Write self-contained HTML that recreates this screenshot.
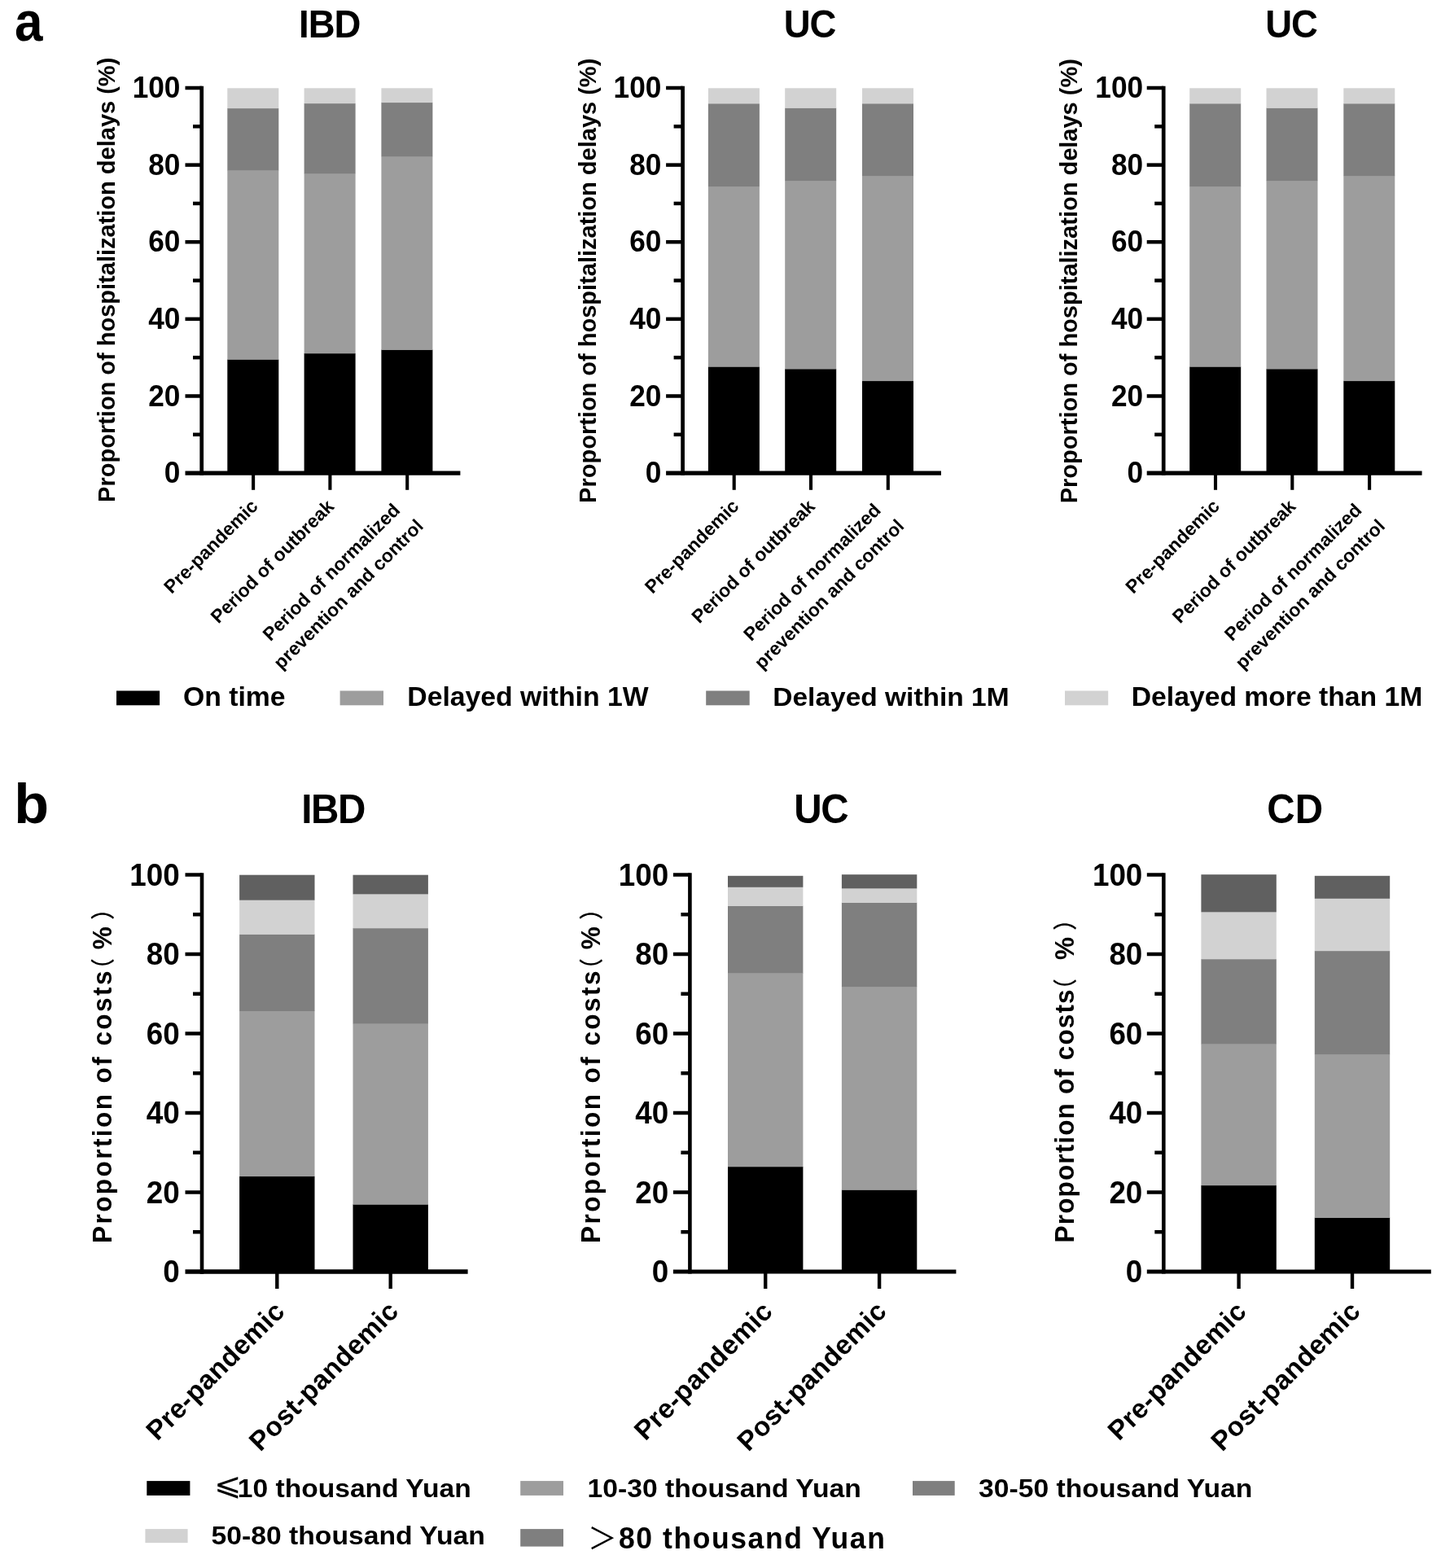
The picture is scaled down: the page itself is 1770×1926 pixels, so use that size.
<!DOCTYPE html>
<html lang="en">
<head>
<meta charset="utf-8">
<title>Figure: hospitalization delays and costs</title>
<style>
html, body { margin: 0; padding: 0; background: #ffffff; }
body { width: 1770px; height: 1926px; overflow: hidden; }
svg { display: block; position: absolute; left: 0; top: 0; }
svg text { font-family: "Liberation Sans", "Noto Sans CJK SC", sans-serif; fill: #000; }
</style>
</head>
<body>
<svg width="1770" height="1926" viewBox="0 0 1770 1926">
<rect x="0" y="0" width="1770" height="1926" fill="#ffffff"/>
<rect x="279.30" y="441.40" width="63.00" height="140.00" fill="#000000"/>
<rect x="279.30" y="209.20" width="63.00" height="232.50" fill="#9d9d9d"/>
<rect x="279.30" y="132.90" width="63.00" height="76.60" fill="#7f7f7f"/>
<rect x="279.30" y="108.30" width="63.00" height="24.90" fill="#d2d2d2"/>
<rect x="373.60" y="434.00" width="63.00" height="147.40" fill="#000000"/>
<rect x="373.60" y="212.90" width="63.00" height="221.40" fill="#9d9d9d"/>
<rect x="373.60" y="126.90" width="63.00" height="86.30" fill="#7f7f7f"/>
<rect x="373.60" y="108.30" width="63.00" height="18.90" fill="#d2d2d2"/>
<rect x="468.40" y="429.50" width="63.00" height="151.90" fill="#000000"/>
<rect x="468.40" y="191.90" width="63.00" height="237.90" fill="#9d9d9d"/>
<rect x="468.40" y="125.80" width="63.00" height="66.40" fill="#7f7f7f"/>
<rect x="468.40" y="108.30" width="63.00" height="17.80" fill="#d2d2d2"/>
<line x1="247.70" y1="105.75" x2="247.70" y2="583.70" stroke="#000" stroke-width="4.7"/>
<line x1="227.50" y1="581.10" x2="565.40" y2="581.10" stroke="#000" stroke-width="5.2"/>
<line x1="237.00" y1="533.79" x2="248.00" y2="533.79" stroke="#000" stroke-width="4.5"/>
<line x1="227.50" y1="486.48" x2="248.00" y2="486.48" stroke="#000" stroke-width="4.5"/>
<line x1="237.00" y1="439.17" x2="248.00" y2="439.17" stroke="#000" stroke-width="4.5"/>
<line x1="227.50" y1="391.86" x2="248.00" y2="391.86" stroke="#000" stroke-width="4.5"/>
<line x1="237.00" y1="344.55" x2="248.00" y2="344.55" stroke="#000" stroke-width="4.5"/>
<line x1="227.50" y1="297.24" x2="248.00" y2="297.24" stroke="#000" stroke-width="4.5"/>
<line x1="237.00" y1="249.93" x2="248.00" y2="249.93" stroke="#000" stroke-width="4.5"/>
<line x1="227.50" y1="202.62" x2="248.00" y2="202.62" stroke="#000" stroke-width="4.5"/>
<line x1="237.00" y1="155.31" x2="248.00" y2="155.31" stroke="#000" stroke-width="4.5"/>
<line x1="227.50" y1="108.00" x2="248.00" y2="108.00" stroke="#000" stroke-width="4.5"/>
<line x1="311.10" y1="581.10" x2="311.10" y2="601.80" stroke="#000" stroke-width="4.1"/>
<line x1="405.40" y1="581.10" x2="405.40" y2="601.80" stroke="#000" stroke-width="4.1"/>
<line x1="500.20" y1="581.10" x2="500.20" y2="601.80" stroke="#000" stroke-width="4.1"/>
<text transform="translate(221.40,593.30) scale(1,1.06)" font-size="35.2" font-weight="bold" text-anchor="end" id="a0_tl0">0</text>
<text transform="translate(221.40,498.68) scale(1,1.06)" font-size="35.2" font-weight="bold" text-anchor="end" id="a0_tl1">20</text>
<text transform="translate(221.40,404.06) scale(1,1.06)" font-size="35.2" font-weight="bold" text-anchor="end" id="a0_tl2">40</text>
<text transform="translate(221.40,309.44) scale(1,1.06)" font-size="35.2" font-weight="bold" text-anchor="end" id="a0_tl3">60</text>
<text transform="translate(221.40,214.82) scale(1,1.06)" font-size="35.2" font-weight="bold" text-anchor="end" id="a0_tl4">80</text>
<text transform="translate(221.40,120.20) scale(1,1.06)" font-size="35.2" font-weight="bold" text-anchor="end" id="a0_tl5">100</text>
<text transform="translate(404.70,46.30) scale(1,1.04)" font-size="45.5" font-weight="bold" text-anchor="middle" letter-spacing="-1.0" id="a0_title">IBD</text>
<text transform="translate(141.40,343.80) rotate(-90) scale(1,1.0)" font-size="29.0" font-weight="bold" text-anchor="middle" id="a0_yl">Proportion of hospitalization delays (%)</text>
<text transform="translate(318.10,623.10) rotate(-45) scale(1,1.0)" font-size="22.95" font-weight="bold" text-anchor="end" id="a0_x1">Pre-pandemic</text>
<text transform="translate(411.60,623.50) rotate(-45) scale(1,1.0)" font-size="22.95" font-weight="bold" text-anchor="end" id="a0_x2">Period of outbreak</text>
<text transform="translate(492.60,628.00) rotate(-45) scale(1,1.0)" font-size="22.95" font-weight="bold" text-anchor="end" id="a0_x3">Period of normalized</text>
<text transform="translate(521.20,647.50) rotate(-45) scale(1,1.0)" font-size="22.95" font-weight="bold" text-anchor="end" id="a0_x4">prevention and control</text>
<rect x="869.90" y="450.30" width="63.00" height="131.10" fill="#000000"/>
<rect x="869.90" y="228.80" width="63.00" height="221.80" fill="#9d9d9d"/>
<rect x="869.90" y="127.10" width="63.00" height="102.00" fill="#7f7f7f"/>
<rect x="869.90" y="108.30" width="63.00" height="19.10" fill="#d2d2d2"/>
<rect x="964.20" y="453.10" width="63.00" height="128.30" fill="#000000"/>
<rect x="964.20" y="221.80" width="63.00" height="231.60" fill="#9d9d9d"/>
<rect x="964.20" y="132.50" width="63.00" height="89.60" fill="#7f7f7f"/>
<rect x="964.20" y="108.30" width="63.00" height="24.50" fill="#d2d2d2"/>
<rect x="1059.00" y="467.80" width="63.00" height="113.60" fill="#000000"/>
<rect x="1059.00" y="215.80" width="63.00" height="252.30" fill="#9d9d9d"/>
<rect x="1059.00" y="127.10" width="63.00" height="89.00" fill="#7f7f7f"/>
<rect x="1059.00" y="108.30" width="63.00" height="19.10" fill="#d2d2d2"/>
<line x1="838.60" y1="105.75" x2="838.60" y2="583.70" stroke="#000" stroke-width="4.7"/>
<line x1="818.10" y1="581.10" x2="1156.00" y2="581.10" stroke="#000" stroke-width="5.2"/>
<line x1="827.60" y1="533.79" x2="838.60" y2="533.79" stroke="#000" stroke-width="4.5"/>
<line x1="818.10" y1="486.48" x2="838.60" y2="486.48" stroke="#000" stroke-width="4.5"/>
<line x1="827.60" y1="439.17" x2="838.60" y2="439.17" stroke="#000" stroke-width="4.5"/>
<line x1="818.10" y1="391.86" x2="838.60" y2="391.86" stroke="#000" stroke-width="4.5"/>
<line x1="827.60" y1="344.55" x2="838.60" y2="344.55" stroke="#000" stroke-width="4.5"/>
<line x1="818.10" y1="297.24" x2="838.60" y2="297.24" stroke="#000" stroke-width="4.5"/>
<line x1="827.60" y1="249.93" x2="838.60" y2="249.93" stroke="#000" stroke-width="4.5"/>
<line x1="818.10" y1="202.62" x2="838.60" y2="202.62" stroke="#000" stroke-width="4.5"/>
<line x1="827.60" y1="155.31" x2="838.60" y2="155.31" stroke="#000" stroke-width="4.5"/>
<line x1="818.10" y1="108.00" x2="838.60" y2="108.00" stroke="#000" stroke-width="4.5"/>
<line x1="901.70" y1="581.10" x2="901.70" y2="601.80" stroke="#000" stroke-width="4.1"/>
<line x1="996.00" y1="581.10" x2="996.00" y2="601.80" stroke="#000" stroke-width="4.1"/>
<line x1="1090.80" y1="581.10" x2="1090.80" y2="601.80" stroke="#000" stroke-width="4.1"/>
<text transform="translate(812.30,593.30) scale(1,1.06)" font-size="35.2" font-weight="bold" text-anchor="end" id="a1_tl0">0</text>
<text transform="translate(812.30,498.68) scale(1,1.06)" font-size="35.2" font-weight="bold" text-anchor="end" id="a1_tl1">20</text>
<text transform="translate(812.30,404.06) scale(1,1.06)" font-size="35.2" font-weight="bold" text-anchor="end" id="a1_tl2">40</text>
<text transform="translate(812.30,309.44) scale(1,1.06)" font-size="35.2" font-weight="bold" text-anchor="end" id="a1_tl3">60</text>
<text transform="translate(812.30,214.82) scale(1,1.06)" font-size="35.2" font-weight="bold" text-anchor="end" id="a1_tl4">80</text>
<text transform="translate(812.30,120.20) scale(1,1.06)" font-size="35.2" font-weight="bold" text-anchor="end" id="a1_tl5">100</text>
<text transform="translate(994.60,46.30) scale(1,1.04)" font-size="45.5" font-weight="bold" text-anchor="middle" letter-spacing="-1.0" id="a1_title">UC</text>
<text transform="translate(732.00,344.80) rotate(-90) scale(1,1.0)" font-size="29.0" font-weight="bold" text-anchor="middle" id="a1_yl">Proportion of hospitalization delays (%)</text>
<text transform="translate(908.70,623.10) rotate(-45) scale(1,1.0)" font-size="22.95" font-weight="bold" text-anchor="end" id="a1_x1">Pre-pandemic</text>
<text transform="translate(1002.20,623.50) rotate(-45) scale(1,1.0)" font-size="22.95" font-weight="bold" text-anchor="end" id="a1_x2">Period of outbreak</text>
<text transform="translate(1083.20,628.00) rotate(-45) scale(1,1.0)" font-size="22.95" font-weight="bold" text-anchor="end" id="a1_x3">Period of normalized</text>
<text transform="translate(1111.80,647.50) rotate(-45) scale(1,1.0)" font-size="22.95" font-weight="bold" text-anchor="end" id="a1_x4">prevention and control</text>
<rect x="1461.20" y="450.30" width="63.00" height="131.10" fill="#000000"/>
<rect x="1461.20" y="228.80" width="63.00" height="221.80" fill="#9d9d9d"/>
<rect x="1461.20" y="127.10" width="63.00" height="102.00" fill="#7f7f7f"/>
<rect x="1461.20" y="108.30" width="63.00" height="19.10" fill="#d2d2d2"/>
<rect x="1555.50" y="453.10" width="63.00" height="128.30" fill="#000000"/>
<rect x="1555.50" y="221.80" width="63.00" height="231.60" fill="#9d9d9d"/>
<rect x="1555.50" y="132.50" width="63.00" height="89.60" fill="#7f7f7f"/>
<rect x="1555.50" y="108.30" width="63.00" height="24.50" fill="#d2d2d2"/>
<rect x="1650.30" y="467.80" width="63.00" height="113.60" fill="#000000"/>
<rect x="1650.30" y="215.80" width="63.00" height="252.30" fill="#9d9d9d"/>
<rect x="1650.30" y="127.10" width="63.00" height="89.00" fill="#7f7f7f"/>
<rect x="1650.30" y="108.30" width="63.00" height="19.10" fill="#d2d2d2"/>
<line x1="1429.20" y1="105.75" x2="1429.20" y2="583.70" stroke="#000" stroke-width="4.7"/>
<line x1="1408.70" y1="581.10" x2="1746.60" y2="581.10" stroke="#000" stroke-width="5.2"/>
<line x1="1418.20" y1="533.79" x2="1429.20" y2="533.79" stroke="#000" stroke-width="4.5"/>
<line x1="1408.70" y1="486.48" x2="1429.20" y2="486.48" stroke="#000" stroke-width="4.5"/>
<line x1="1418.20" y1="439.17" x2="1429.20" y2="439.17" stroke="#000" stroke-width="4.5"/>
<line x1="1408.70" y1="391.86" x2="1429.20" y2="391.86" stroke="#000" stroke-width="4.5"/>
<line x1="1418.20" y1="344.55" x2="1429.20" y2="344.55" stroke="#000" stroke-width="4.5"/>
<line x1="1408.70" y1="297.24" x2="1429.20" y2="297.24" stroke="#000" stroke-width="4.5"/>
<line x1="1418.20" y1="249.93" x2="1429.20" y2="249.93" stroke="#000" stroke-width="4.5"/>
<line x1="1408.70" y1="202.62" x2="1429.20" y2="202.62" stroke="#000" stroke-width="4.5"/>
<line x1="1418.20" y1="155.31" x2="1429.20" y2="155.31" stroke="#000" stroke-width="4.5"/>
<line x1="1408.70" y1="108.00" x2="1429.20" y2="108.00" stroke="#000" stroke-width="4.5"/>
<line x1="1493.00" y1="581.10" x2="1493.00" y2="601.80" stroke="#000" stroke-width="4.1"/>
<line x1="1587.30" y1="581.10" x2="1587.30" y2="601.80" stroke="#000" stroke-width="4.1"/>
<line x1="1682.10" y1="581.10" x2="1682.10" y2="601.80" stroke="#000" stroke-width="4.1"/>
<text transform="translate(1404.10,593.30) scale(1,1.06)" font-size="35.2" font-weight="bold" text-anchor="end" id="a2_tl0">0</text>
<text transform="translate(1404.10,498.68) scale(1,1.06)" font-size="35.2" font-weight="bold" text-anchor="end" id="a2_tl1">20</text>
<text transform="translate(1404.10,404.06) scale(1,1.06)" font-size="35.2" font-weight="bold" text-anchor="end" id="a2_tl2">40</text>
<text transform="translate(1404.10,309.44) scale(1,1.06)" font-size="35.2" font-weight="bold" text-anchor="end" id="a2_tl3">60</text>
<text transform="translate(1404.10,214.82) scale(1,1.06)" font-size="35.2" font-weight="bold" text-anchor="end" id="a2_tl4">80</text>
<text transform="translate(1404.10,120.20) scale(1,1.06)" font-size="35.2" font-weight="bold" text-anchor="end" id="a2_tl5">100</text>
<text transform="translate(1586.00,46.30) scale(1,1.04)" font-size="45.5" font-weight="bold" text-anchor="middle" letter-spacing="-1.0" id="a2_title">UC</text>
<text transform="translate(1322.60,345.20) rotate(-90) scale(1,1.0)" font-size="29.0" font-weight="bold" text-anchor="middle" id="a2_yl">Proportion of hospitalization delays (%)</text>
<text transform="translate(1499.30,623.10) rotate(-45) scale(1,1.0)" font-size="22.95" font-weight="bold" text-anchor="end" id="a2_x1">Pre-pandemic</text>
<text transform="translate(1592.80,623.50) rotate(-45) scale(1,1.0)" font-size="22.95" font-weight="bold" text-anchor="end" id="a2_x2">Period of outbreak</text>
<text transform="translate(1673.80,628.00) rotate(-45) scale(1,1.0)" font-size="22.95" font-weight="bold" text-anchor="end" id="a2_x3">Period of normalized</text>
<text transform="translate(1702.40,647.50) rotate(-45) scale(1,1.0)" font-size="22.95" font-weight="bold" text-anchor="end" id="a2_x4">prevention and control</text>
<text transform="translate(18.00,50.00) scale(1,1.1)" font-size="62" font-weight="bold" text-anchor="start" id="a_label">a</text>
<rect x="143.00" y="848.50" width="53.10" height="17.80" fill="#000000"/>
<text transform="translate(225.00,867.20) scale(1,0.96)" font-size="33.75" font-weight="bold" text-anchor="start" id="a_leg0">On time</text>
<rect x="417.60" y="848.50" width="53.40" height="17.80" fill="#9d9d9d"/>
<text transform="translate(500.30,867.20) scale(1,0.96)" font-size="33.75" font-weight="bold" text-anchor="start" id="a_leg1">Delayed within 1W</text>
<rect x="867.20" y="848.50" width="53.50" height="17.80" fill="#7f7f7f"/>
<text transform="translate(949.30,867.20) scale(1,0.96)" font-size="33.5" font-weight="bold" text-anchor="start" id="a_leg2">Delayed within 1M</text>
<rect x="1308.00" y="848.50" width="53.20" height="17.80" fill="#d2d2d2"/>
<text transform="translate(1389.80,867.20) scale(1,0.96)" font-size="33.7" font-weight="bold" text-anchor="start" id="a_leg3">Delayed more than 1M</text>
<rect x="294.10" y="1444.80" width="92.40" height="117.50" fill="#000000"/>
<rect x="294.10" y="1241.70" width="92.40" height="203.40" fill="#9d9d9d"/>
<rect x="294.10" y="1147.50" width="92.40" height="94.50" fill="#7f7f7f"/>
<rect x="294.10" y="1105.40" width="92.40" height="42.40" fill="#d2d2d2"/>
<rect x="294.10" y="1074.70" width="92.40" height="31.00" fill="#606060"/>
<rect x="433.50" y="1479.30" width="92.40" height="83.00" fill="#000000"/>
<rect x="433.50" y="1257.00" width="92.40" height="222.60" fill="#9d9d9d"/>
<rect x="433.50" y="1140.00" width="92.40" height="117.30" fill="#7f7f7f"/>
<rect x="433.50" y="1098.00" width="92.40" height="42.30" fill="#d2d2d2"/>
<rect x="433.50" y="1074.70" width="92.40" height="23.60" fill="#606060"/>
<line x1="248.00" y1="1072.25" x2="248.00" y2="1564.70" stroke="#000" stroke-width="4.6"/>
<line x1="227.50" y1="1562.00" x2="574.60" y2="1562.00" stroke="#000" stroke-width="5.4"/>
<line x1="237.00" y1="1513.25" x2="248.00" y2="1513.25" stroke="#000" stroke-width="4.5"/>
<line x1="227.50" y1="1464.50" x2="248.00" y2="1464.50" stroke="#000" stroke-width="4.5"/>
<line x1="237.00" y1="1415.75" x2="248.00" y2="1415.75" stroke="#000" stroke-width="4.5"/>
<line x1="227.50" y1="1367.00" x2="248.00" y2="1367.00" stroke="#000" stroke-width="4.5"/>
<line x1="237.00" y1="1318.25" x2="248.00" y2="1318.25" stroke="#000" stroke-width="4.5"/>
<line x1="227.50" y1="1269.50" x2="248.00" y2="1269.50" stroke="#000" stroke-width="4.5"/>
<line x1="237.00" y1="1220.75" x2="248.00" y2="1220.75" stroke="#000" stroke-width="4.5"/>
<line x1="227.50" y1="1172.00" x2="248.00" y2="1172.00" stroke="#000" stroke-width="4.5"/>
<line x1="237.00" y1="1123.25" x2="248.00" y2="1123.25" stroke="#000" stroke-width="4.5"/>
<line x1="227.50" y1="1074.50" x2="248.00" y2="1074.50" stroke="#000" stroke-width="4.5"/>
<line x1="340.30" y1="1562.00" x2="340.30" y2="1583.00" stroke="#000" stroke-width="4.4"/>
<line x1="479.70" y1="1562.00" x2="479.70" y2="1583.00" stroke="#000" stroke-width="4.4"/>
<text transform="translate(220.60,1575.30) scale(1,1.07)" font-size="36.8" font-weight="bold" text-anchor="end" id="b0_tl0">0</text>
<text transform="translate(220.60,1477.80) scale(1,1.07)" font-size="36.8" font-weight="bold" text-anchor="end" id="b0_tl1">20</text>
<text transform="translate(220.60,1380.30) scale(1,1.07)" font-size="36.8" font-weight="bold" text-anchor="end" id="b0_tl2">40</text>
<text transform="translate(220.60,1282.80) scale(1,1.07)" font-size="36.8" font-weight="bold" text-anchor="end" id="b0_tl3">60</text>
<text transform="translate(220.60,1185.30) scale(1,1.07)" font-size="36.8" font-weight="bold" text-anchor="end" id="b0_tl4">80</text>
<text transform="translate(220.60,1087.80) scale(1,1.07)" font-size="36.8" font-weight="bold" text-anchor="end" id="b0_tl5">100</text>
<text transform="translate(409.10,1010.60) scale(1,1.03)" font-size="47.6" font-weight="bold" text-anchor="middle" letter-spacing="-1.4" id="b0_title">IBD</text>
<text transform="translate(137.10,1527.00) rotate(-90) scale(1,1.08)" font-size="31.5" font-weight="bold" text-anchor="start" id="b0_yl"><tspan letter-spacing="2.45">Proportion of costs</tspan><tspan x="322.6" font-weight="500" font-size="27.5">（</tspan><tspan x="360.75">%</tspan><tspan x="397.1" font-weight="500" font-size="27.5">）</tspan></text>
<text transform="translate(351.50,1612.60) rotate(-45) scale(1,1.0)" font-size="33.3" font-weight="bold" text-anchor="end" letter-spacing="0.3" id="b0_x1">Pre-pandemic</text>
<text transform="translate(491.40,1612.50) rotate(-45) scale(1,1.0)" font-size="33.3" font-weight="bold" text-anchor="end" letter-spacing="0.3" id="b0_x2">Post-pandemic</text>
<rect x="894.00" y="1433.00" width="92.40" height="129.30" fill="#000000"/>
<rect x="894.00" y="1195.30" width="92.40" height="238.00" fill="#9d9d9d"/>
<rect x="894.00" y="1112.70" width="92.40" height="82.90" fill="#7f7f7f"/>
<rect x="894.00" y="1089.50" width="92.40" height="23.50" fill="#d2d2d2"/>
<rect x="894.00" y="1075.80" width="92.40" height="14.00" fill="#606060"/>
<rect x="1033.90" y="1461.40" width="92.40" height="100.90" fill="#000000"/>
<rect x="1033.90" y="1211.80" width="92.40" height="249.90" fill="#9d9d9d"/>
<rect x="1033.90" y="1108.70" width="92.40" height="103.40" fill="#7f7f7f"/>
<rect x="1033.90" y="1091.00" width="92.40" height="18.00" fill="#d2d2d2"/>
<rect x="1033.90" y="1074.20" width="92.40" height="17.10" fill="#606060"/>
<line x1="847.40" y1="1072.25" x2="847.40" y2="1564.40" stroke="#000" stroke-width="4.6"/>
<line x1="826.90" y1="1562.00" x2="1174.40" y2="1562.00" stroke="#000" stroke-width="4.8"/>
<line x1="836.40" y1="1513.25" x2="847.40" y2="1513.25" stroke="#000" stroke-width="4.5"/>
<line x1="826.90" y1="1464.50" x2="847.40" y2="1464.50" stroke="#000" stroke-width="4.5"/>
<line x1="836.40" y1="1415.75" x2="847.40" y2="1415.75" stroke="#000" stroke-width="4.5"/>
<line x1="826.90" y1="1367.00" x2="847.40" y2="1367.00" stroke="#000" stroke-width="4.5"/>
<line x1="836.40" y1="1318.25" x2="847.40" y2="1318.25" stroke="#000" stroke-width="4.5"/>
<line x1="826.90" y1="1269.50" x2="847.40" y2="1269.50" stroke="#000" stroke-width="4.5"/>
<line x1="836.40" y1="1220.75" x2="847.40" y2="1220.75" stroke="#000" stroke-width="4.5"/>
<line x1="826.90" y1="1172.00" x2="847.40" y2="1172.00" stroke="#000" stroke-width="4.5"/>
<line x1="836.40" y1="1123.25" x2="847.40" y2="1123.25" stroke="#000" stroke-width="4.5"/>
<line x1="826.90" y1="1074.50" x2="847.40" y2="1074.50" stroke="#000" stroke-width="4.5"/>
<line x1="940.20" y1="1562.00" x2="940.20" y2="1583.00" stroke="#000" stroke-width="4.4"/>
<line x1="1080.10" y1="1562.00" x2="1080.10" y2="1583.00" stroke="#000" stroke-width="4.4"/>
<text transform="translate(821.20,1575.30) scale(1,1.07)" font-size="36.8" font-weight="bold" text-anchor="end" id="b1_tl0">0</text>
<text transform="translate(821.20,1477.80) scale(1,1.07)" font-size="36.8" font-weight="bold" text-anchor="end" id="b1_tl1">20</text>
<text transform="translate(821.20,1380.30) scale(1,1.07)" font-size="36.8" font-weight="bold" text-anchor="end" id="b1_tl2">40</text>
<text transform="translate(821.20,1282.80) scale(1,1.07)" font-size="36.8" font-weight="bold" text-anchor="end" id="b1_tl3">60</text>
<text transform="translate(821.20,1185.30) scale(1,1.07)" font-size="36.8" font-weight="bold" text-anchor="end" id="b1_tl4">80</text>
<text transform="translate(821.20,1087.80) scale(1,1.07)" font-size="36.8" font-weight="bold" text-anchor="end" id="b1_tl5">100</text>
<text transform="translate(1008.30,1010.60) scale(1,1.03)" font-size="47.6" font-weight="bold" text-anchor="middle" letter-spacing="-1.4" id="b1_title">UC</text>
<text transform="translate(737.10,1527.00) rotate(-90) scale(1,1.08)" font-size="31.5" font-weight="bold" text-anchor="start" id="b1_yl"><tspan letter-spacing="2.45">Proportion of costs</tspan><tspan x="322.6" font-weight="500" font-size="27.5">（</tspan><tspan x="360.75">%</tspan><tspan x="397.1" font-weight="500" font-size="27.5">）</tspan></text>
<text transform="translate(950.90,1612.60) rotate(-45) scale(1,1.0)" font-size="33.3" font-weight="bold" text-anchor="end" letter-spacing="0.3" id="b1_x1">Pre-pandemic</text>
<text transform="translate(1090.80,1612.50) rotate(-45) scale(1,1.0)" font-size="33.3" font-weight="bold" text-anchor="end" letter-spacing="0.3" id="b1_x2">Post-pandemic</text>
<rect x="1475.40" y="1455.90" width="92.40" height="106.40" fill="#000000"/>
<rect x="1475.40" y="1282.30" width="92.40" height="173.90" fill="#9d9d9d"/>
<rect x="1475.40" y="1178.00" width="92.40" height="104.60" fill="#7f7f7f"/>
<rect x="1475.40" y="1120.00" width="92.40" height="58.30" fill="#d2d2d2"/>
<rect x="1475.40" y="1074.20" width="92.40" height="46.10" fill="#606060"/>
<rect x="1614.80" y="1495.60" width="92.40" height="66.70" fill="#000000"/>
<rect x="1614.80" y="1294.80" width="92.40" height="201.10" fill="#9d9d9d"/>
<rect x="1614.80" y="1167.90" width="92.40" height="127.20" fill="#7f7f7f"/>
<rect x="1614.80" y="1103.50" width="92.40" height="64.70" fill="#d2d2d2"/>
<rect x="1614.80" y="1075.80" width="92.40" height="28.00" fill="#606060"/>
<line x1="1429.30" y1="1072.25" x2="1429.30" y2="1564.40" stroke="#000" stroke-width="4.6"/>
<line x1="1408.80" y1="1562.00" x2="1757.80" y2="1562.00" stroke="#000" stroke-width="4.8"/>
<line x1="1418.30" y1="1513.25" x2="1429.30" y2="1513.25" stroke="#000" stroke-width="4.5"/>
<line x1="1408.80" y1="1464.50" x2="1429.30" y2="1464.50" stroke="#000" stroke-width="4.5"/>
<line x1="1418.30" y1="1415.75" x2="1429.30" y2="1415.75" stroke="#000" stroke-width="4.5"/>
<line x1="1408.80" y1="1367.00" x2="1429.30" y2="1367.00" stroke="#000" stroke-width="4.5"/>
<line x1="1418.30" y1="1318.25" x2="1429.30" y2="1318.25" stroke="#000" stroke-width="4.5"/>
<line x1="1408.80" y1="1269.50" x2="1429.30" y2="1269.50" stroke="#000" stroke-width="4.5"/>
<line x1="1418.30" y1="1220.75" x2="1429.30" y2="1220.75" stroke="#000" stroke-width="4.5"/>
<line x1="1408.80" y1="1172.00" x2="1429.30" y2="1172.00" stroke="#000" stroke-width="4.5"/>
<line x1="1418.30" y1="1123.25" x2="1429.30" y2="1123.25" stroke="#000" stroke-width="4.5"/>
<line x1="1408.80" y1="1074.50" x2="1429.30" y2="1074.50" stroke="#000" stroke-width="4.5"/>
<line x1="1521.60" y1="1562.00" x2="1521.60" y2="1583.00" stroke="#000" stroke-width="4.4"/>
<line x1="1661.00" y1="1562.00" x2="1661.00" y2="1583.00" stroke="#000" stroke-width="4.4"/>
<text transform="translate(1403.30,1575.30) scale(1,1.07)" font-size="36.8" font-weight="bold" text-anchor="end" id="b2_tl0">0</text>
<text transform="translate(1403.30,1477.80) scale(1,1.07)" font-size="36.8" font-weight="bold" text-anchor="end" id="b2_tl1">20</text>
<text transform="translate(1403.30,1380.30) scale(1,1.07)" font-size="36.8" font-weight="bold" text-anchor="end" id="b2_tl2">40</text>
<text transform="translate(1403.30,1282.80) scale(1,1.07)" font-size="36.8" font-weight="bold" text-anchor="end" id="b2_tl3">60</text>
<text transform="translate(1403.30,1185.30) scale(1,1.07)" font-size="36.8" font-weight="bold" text-anchor="end" id="b2_tl4">80</text>
<text transform="translate(1403.30,1087.80) scale(1,1.07)" font-size="36.8" font-weight="bold" text-anchor="end" id="b2_tl5">100</text>
<text transform="translate(1590.70,1010.60) scale(1,1.03)" font-size="47.6" font-weight="bold" text-anchor="middle" id="b2_title">CD</text>
<text transform="translate(1319.40,1526.40) rotate(-90) scale(1,1.08)" font-size="31.5" font-weight="bold" text-anchor="start" id="b2_yl"><tspan letter-spacing="1.15">Proportion of costs</tspan><tspan x="296.8" font-weight="500" font-size="27.5">（</tspan><tspan x="347.5">%</tspan><tspan x="383.3" font-weight="500" font-size="27.5">）</tspan></text>
<text transform="translate(1532.80,1612.60) rotate(-45) scale(1,1.0)" font-size="33.3" font-weight="bold" text-anchor="end" letter-spacing="0.3" id="b2_x1">Pre-pandemic</text>
<text transform="translate(1672.70,1612.50) rotate(-45) scale(1,1.0)" font-size="33.3" font-weight="bold" text-anchor="end" letter-spacing="0.3" id="b2_x2">Post-pandemic</text>
<text transform="translate(17.30,1011.40) scale(1,0.968)" font-size="70" font-weight="bold" text-anchor="start" id="b_label">b</text>
<rect x="180.30" y="1819.10" width="53.10" height="17.80" fill="#000000"/>
<text transform="translate(262.90,1838.60) scale(1,0.95)" font-size="33.6" font-weight="bold" text-anchor="start" id="b_leg0"><tspan id="b_leg0_s" font-family="DejaVu Sans, sans-serif" font-weight="normal" font-size="40" dy="-2.9">⩽</tspan><tspan id="b_leg0_t" x="28.9" dy="2.9">10 thousand Yuan</tspan></text>
<rect x="639.20" y="1819.10" width="52.80" height="17.80" fill="#9d9d9d"/>
<text transform="translate(721.50,1838.60) scale(1,0.95)" font-size="33.7" font-weight="bold" text-anchor="start" id="b_leg1">10-30 thousand Yuan</text>
<rect x="1121.00" y="1819.10" width="51.70" height="17.80" fill="#7f7f7f"/>
<text transform="translate(1202.00,1838.60) scale(1,0.95)" font-size="33.7" font-weight="bold" text-anchor="start" id="b_leg2">30-50 thousand Yuan</text>
<rect x="178.40" y="1878.10" width="52.20" height="17.00" fill="#d2d2d2"/>
<text transform="translate(259.50,1897.30) scale(1,0.95)" font-size="33.7" font-weight="bold" text-anchor="start" id="b_leg3">50-80 thousand Yuan</text>
<rect x="639.20" y="1878.10" width="52.80" height="21.50" fill="#7f7f7f"/>
<text transform="translate(722.10,1901.80) scale(1,1.024)" font-size="35.5" font-weight="bold" text-anchor="start" id="b_leg4"><tspan id="b_leg4_s" font-weight="normal" font-size="35.7" dy="1.0">＞</tspan><tspan id="b_leg4_t" x="37.8" dy="-1.0" letter-spacing="1.6">80 thousand Yuan</tspan></text>
</svg>
</body>
</html>
